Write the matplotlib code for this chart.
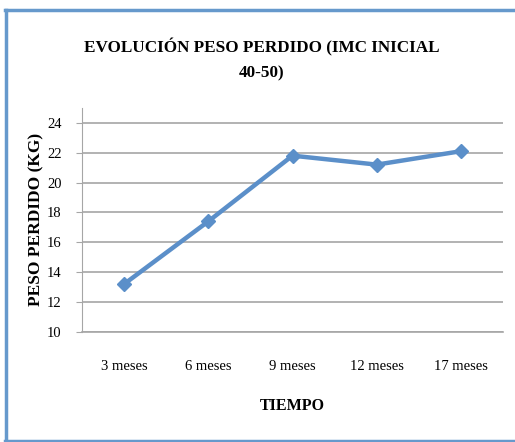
import matplotlib.pyplot as plt
from matplotlib.lines import Line2D

meses = ["3 meses", "6 meses", "9 meses", "12 meses", "17 meses"]
peso_perdido = [13.2, 17.4, 21.8, 21.2, 22.1]

plt.rcParams['font.family'] = ['Liberation Serif', 'DejaVu Serif']

fig = plt.figure(figsize=(5.15, 4.42), dpi=100)
ax = fig.add_axes([0.159, 0.249, 0.818, 0.507])

x = range(len(meses))
ax.plot(x, peso_perdido, color="#5B8FC9", linewidth=3.2, marker="D", markersize=7,
        markeredgecolor="#5B8FC9", markerfacecolor="#5B8FC9")

ax.set_xlim(-0.5, len(meses) - 0.5)
ax.set_ylim(10, 25)
ax.set_yticks(range(10, 25, 2))
ax.set_xticks(list(x))
ax.set_xticklabels(meses)
ax.grid(axis="y", color="#A6A6A6", linewidth=1.2)
ax.set_axisbelow(True)

for s in ["top", "right"]:
    ax.spines[s].set_visible(False)
ax.spines["left"].set_color("#A6A6A6")
ax.spines["bottom"].set_color("#A6A6A6")
ax.spines["bottom"].set_linewidth(1.2)
ax.tick_params(axis="y", length=4, color="#A6A6A6", labelsize=10.5, pad=10.5)
ax.tick_params(axis="x", length=0, labelsize=10.5, pad=20)

ax.set_ylabel("PESO PERDIDO (KG)", fontsize=12.5, fontweight="bold", labelpad=2)
ax.set_xlabel("TIEMPO", fontsize=11.5, fontweight="bold", labelpad=18)

fig.text(0.508, 0.865, "EVOLUCIÓN PESO PERDIDO (IMC INICIAL\n40-50)", ha="center", va="center",
         fontsize=12.3, fontweight="bold", linespacing=1.7)

# marco azul
fig.add_artist(Line2D([0.0125, 0.0125], [0.0, 0.978], color="#6699CC", linewidth=2.5, transform=fig.transFigure))
fig.add_artist(Line2D([0.01, 1.0], [0.978, 0.978], color="#6699CC", linewidth=2.5, transform=fig.transFigure))
fig.add_artist(Line2D([0.01, 1.0], [0.003, 0.003], color="#6699CC", linewidth=2.5, transform=fig.transFigure))

fig.savefig("out.png", dpi=100)
